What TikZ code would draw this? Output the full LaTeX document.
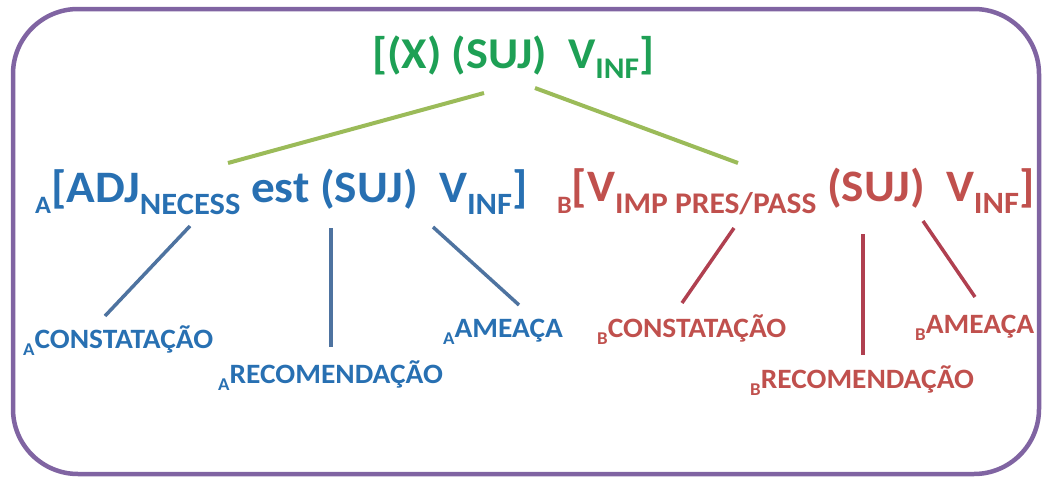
\documentclass[tikz,border=0pt]{standalone}
\usepackage{fontspec}
\setmainfont{Carlito}[FakeStretch=1.05]
\definecolor{titlegreen}{RGB}{30,160,85}
\definecolor{rowblue}{RGB}{40,112,178}
\definecolor{rowred}{RGB}{192,80,77}
\definecolor{linegreen}{RGB}{155,187,89}
\definecolor{lineblue}{RGB}{78,115,160}
\definecolor{linered}{RGB}{176,64,80}
\definecolor{framepurple}{RGB}{128,100,162}
% lowered small text: size, drop, text
\newcommand{\lo}[3]{\raisebox{-#2pt}{\fontsize{#1}{#1}\selectfont #3}}
\begin{document}
\begin{tikzpicture}[x=1pt,y=-1pt,
	big/.style={anchor=base west,inner sep=0pt,font=\fontsize{45}{45}\selectfont\bfseries},
	lbl/.style={anchor=base west,inner sep=0pt,font=\fontsize{28}{28}\selectfont\bfseries},
	gline/.style={draw=linegreen,line width=4pt},
	bline/.style={draw=lineblue,line width=3.5pt},
	rline/.style={draw=linered,line width=3.5pt}]
	\useasboundingbox (0,0) rectangle (1045,479);
	\draw[draw=framepurple,line width=4.5pt,rounded corners=65pt] (13,9) rectangle (1039,474);
	\node[big,font=\fontsize{44}{44}\selectfont\bfseries,text=titlegreen] (title) at (372,68) {[(X) (SUJ)\ \ V\lo{30}{10}{INF}]};
	\node[big,text=rowblue] (rowA) at (35,202) {\lo{25}{11}{A}[ADJ\lo{31}{12}{NECESS} est (SUJ)\ \ V\lo{31}{12}{INF}]};
	\node[big,text=rowred] (rowB) at (557,201) {\lo{25}{12}{B}[V\lo{30}{12}{IMP PRES/PASS}\ (SUJ)\ \ V\lo{31}{12}{INF}]};
	\node[lbl,text=rowblue] (constA) at (23,348) {\lo{18}{7}{A}CONSTATAÇÃO};
	\node[lbl,text=rowblue] (recA) at (218,383) {\lo{18}{7}{A}RECOMENDAÇÃO};
	\node[lbl,text=rowblue] (ameA) at (443,337) {\lo{18}{7}{A}AMEAÇA};
	\node[lbl,text=rowred] (constB) at (597,337) {\lo{18}{7}{B}CONSTATAÇÃO};
	\node[lbl,text=rowred] (recB) at (750,388) {\lo{18}{7}{B}RECOMENDAÇÃO};
	\node[lbl,text=rowred] (ameB) at (915,333) {\lo{18}{7}{B}AMEAÇA};
	\draw[gline] ([xshift=112pt,yshift=-25pt]title.base west) -- ([xshift=193pt,yshift=39pt]rowA.base west);
	\draw[gline] ([xshift=163pt,yshift=-20pt]title.base west) -- ([xshift=181pt,yshift=38pt]rowB.base west);
	\draw[bline] ([xshift=155pt,yshift=-24pt]rowA.base west) -- ([xshift=82pt,yshift=32pt]constA.base west);
	\draw[bline] ([xshift=296pt,yshift=-26pt]rowA.base west) -- ([xshift=113pt,yshift=36pt]recA.base west);
	\draw[bline] ([xshift=398pt,yshift=-25pt]rowA.base west) -- ([xshift=76pt,yshift=32pt]ameA.base west);
	\draw[rline] ([xshift=177pt,yshift=-27pt]rowB.base west) -- ([xshift=85pt,yshift=34pt]constB.base west);
	\draw[rline] ([xshift=306pt,yshift=-33pt]rowB.base west) -- ([xshift=113pt,yshift=33pt]recB.base west);
	\draw[rline] ([xshift=366pt,yshift=-20pt]rowB.base west) -- ([xshift=60pt,yshift=36pt]ameB.base west);
\end{tikzpicture}
\end{document}
